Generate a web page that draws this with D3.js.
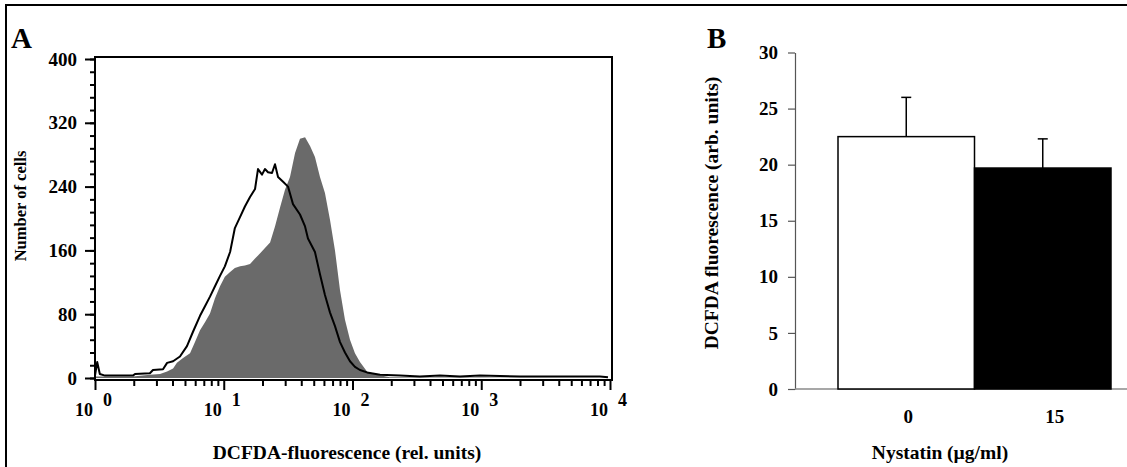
<!DOCTYPE html>
<html>
<head>
<meta charset="utf-8">
<script src="https://cdn.jsdelivr.net/npm/d3@7"></script>
<style>
  body { margin: 0; background: #fff; }
  svg { display: block; font-family: "Liberation Serif", "Times New Roman", serif; font-weight: bold; }
</style>
</head>
<body>
<svg id="chart" width="1127" height="467"></svg>
<script>
// Panel A: flow cytometry histograms (fluorescence, count)
const treatedFluor = [1.0, 1.31, 1.97, 2.67, 3.2, 3.63, 4.04, 4.33, 4.83, 5.47, 5.98, 6.54, 7.15, 7.82, 8.55, 9.35, 10.2, 11.2, 12.2, 13.4, 14.6, 16.0, 17.5, 19.1, 20.9, 22.9, 25.0, 27.4, 29.9, 32.7, 35.8, 39.1, 42.8, 46.8, 51.1, 55.9, 61.1, 66.9, 73.1, 80.0, 87.4, 95.6, 104.5, 114.3, 129.6, 155, 195, 334, 978, 9646];
const treatedCount = [2, 2, 2, 4, 5, 8, 12, 19, 25, 31, 45, 60, 70, 81, 100, 115, 127, 133, 138, 140, 141, 143, 150, 156, 163, 170, 190, 214, 236, 252, 282, 300, 302, 291, 277, 252, 232, 198, 160, 110, 73, 48, 31, 20, 8, 4, 1, 0.5, 0.5, 0];

const controlFluor = [1.0, 1.04, 1.09, 1.196, 1.97, 2.045, 2.67, 2.82, 3.375, 3.63, 4.04, 4.57, 5.18, 5.77, 6.54, 7.15, 7.82, 8.55, 9.35, 10.2, 11.2, 12.2, 13.4, 14.6, 16.0, 17.5, 18.45, 19.82, 20.9, 22.07, 23.7, 25.0, 26.4, 28.9, 31.55, 34.5, 39.1, 42.8, 45.1, 51.1, 55.9, 61.1, 66.9, 73.1, 80.0, 87.4, 95.6, 104.5, 114.3, 129.6, 163.6, 233.9, 334, 478, 684, 978, 2000, 4090, 8360, 9646];
const controlCount = [3, 20, 5, 3, 3, 5, 6, 10, 11, 19, 21, 27, 40, 58, 78, 90, 102, 115, 128, 140, 158, 188, 202, 215, 227, 237, 262, 255, 262, 258, 257, 268, 252, 246, 240, 218, 205, 190, 175, 158, 130, 104, 82, 65, 45, 32, 21, 14, 10, 7, 4, 3, 2, 3, 2, 3, 2, 2, 2, 1];

const histYTicks = [0, 80, 160, 240, 320, 400];
const histDecades = [1, 10, 100, 1000, 10000];

// Panel B: bar chart
const nystatinDose = ['0', '15'];
const dcfdaMean = [22.5, 19.7];
const dcfdaErr = [3.5, 2.6];
const barYTicks = [0, 5, 10, 15, 20, 25, 30];

const svg = d3.select('#chart');

// outer frame (top and left edges only)
svg.append('path')
  .attr('d', 'M6,467V5H1127')
  .attr('fill', 'none')
  .attr('stroke', '#000')
  .attr('stroke-width', 2);

// ---------- Panel A ----------
const A = { left: 95, right: 612, top: 57, bottom: 380 };

const x = d3.scaleLog().domain([1, 10000]).range([A.left, 610]);
const y = d3.scaleLinear().domain([0, 400]).range([378, 59]);

const area = d3.area()
  .x((d, i) => x(treatedFluor[i]))
  .y0(y(0))
  .y1(d => y(d));

svg.append('path')
  .datum(treatedCount)
  .attr('fill', '#6a6a6a')
  .attr('d', area);

const line = d3.line()
  .x((d, i) => x(controlFluor[i]))
  .y(d => y(d));

svg.append('path')
  .datum(controlCount)
  .attr('fill', 'none')
  .attr('stroke', '#000')
  .attr('stroke-width', 2)
  .attr('stroke-linejoin', 'round')
  .attr('d', line);

svg.append('rect')
  .attr('x', A.left)
  .attr('y', A.top)
  .attr('width', A.right - A.left)
  .attr('height', A.bottom - A.top)
  .attr('fill', 'none')
  .attr('stroke', '#000')
  .attr('stroke-width', 2);

// y axis: minor + major ticks
svg.append('g')
  .attr('transform', `translate(${A.left},0)`)
  .call(d3.axisLeft(y).tickValues(d3.range(0, 401, 16)).tickSize(5).tickFormat(''))
  .call(g => g.select('.domain').remove())
  .selectAll('line').attr('stroke-width', 2);

svg.append('g')
  .attr('transform', `translate(${A.left},0)`)
  .call(d3.axisLeft(y).tickValues(histYTicks).tickSize(10).tickPadding(8))
  .call(g => g.select('.domain').remove())
  .call(g => g.selectAll('line').attr('stroke-width', 2))
  .selectAll('text')
  .attr('font-family', 'Liberation Serif')
  .attr('font-weight', 'bold')
  .attr('font-size', 19);

// x axis: minor + decade ticks
const minorX = [];
histDecades.slice(0, -1).forEach(d => { for (let k = 2; k <= 9; k++) minorX.push(d * k); });

svg.append('g')
  .attr('transform', `translate(0,${A.bottom})`)
  .call(d3.axisBottom(x).tickValues(minorX).tickSize(6).tickFormat(''))
  .call(g => g.select('.domain').remove())
  .selectAll('line').attr('stroke-width', 2);

svg.append('g')
  .attr('transform', `translate(0,${A.bottom})`)
  .call(d3.axisBottom(x).tickValues(histDecades).tickSize(10).tickFormat(''))
  .call(g => g.select('.domain').remove())
  .selectAll('line').attr('stroke-width', 2);

const decLabels = svg.append('g').attr('font-size', 18);
decLabels.selectAll('text.base')
  .data(histDecades)
  .join('text')
  .attr('class', 'base')
  .attr('x', d => x(d) - 2)
  .attr('y', 416)
  .attr('text-anchor', 'end')
  .text('10');
decLabels.selectAll('text.exp')
  .data(histDecades)
  .join('text')
  .attr('class', 'exp')
  .attr('x', d => x(d) + 8)
  .attr('y', 406)
  .text(d => Math.round(Math.log10(d)));

svg.append('text')
  .attr('x', 347)
  .attr('y', 459)
  .attr('text-anchor', 'middle')
  .attr('font-size', 19.5)
  .text('DCFDA-fluorescence (rel. units)');

svg.append('text')
  .attr('transform', 'translate(26,206) rotate(-90)')
  .attr('text-anchor', 'middle')
  .attr('font-size', 16.5)
  .text('Number of cells');

svg.append('text')
  .attr('x', 11)
  .attr('y', 48)
  .attr('font-size', 29)
  .text('A');

// ---------- Panel B ----------
const B = { left: 795, right: 1127, barLeft: 838, barRight: 1111 };

const yB = d3.scaleLinear().domain([0, 30]).range([389, 52.5]);
const xB = d3.scaleBand().domain(nystatinDose).range([B.barLeft, B.barRight]).padding(0);

svg.append('g')
  .attr('transform', `translate(${B.left},0)`)
  .call(d3.axisLeft(yB).tickValues(barYTicks).tickSize(7).tickSizeOuter(0).tickPadding(10))
  .call(g => g.selectAll('line').attr('stroke', '#555').attr('stroke-width', 1.2))
  .call(g => g.select('.domain').attr('stroke', '#555').attr('stroke-width', 1.2))
  .selectAll('text')
  .attr('font-family', 'Liberation Serif')
  .attr('font-weight', 'bold')
  .attr('font-size', 19);

svg.append('line')
  .attr('x1', B.left)
  .attr('x2', B.right)
  .attr('y1', yB(0))
  .attr('y2', yB(0))
  .attr('stroke', '#8a8a8a')
  .attr('stroke-width', 1.5);

svg.selectAll('rect.bar')
  .data(dcfdaMean)
  .join('rect')
  .attr('class', 'bar')
  .attr('x', (d, i) => xB(nystatinDose[i]))
  .attr('y', d => yB(d))
  .attr('width', xB.bandwidth())
  .attr('height', d => yB(0) - yB(d))
  .attr('fill', (d, i) => (i === 0 ? '#fff' : '#000'))
  .attr('stroke', '#000')
  .attr('stroke-width', 1.5);

const errG = svg.append('g').attr('stroke', '#000').attr('stroke-width', 1.5);
dcfdaMean.forEach((m, i) => {
  const cx = xB(nystatinDose[i]) + xB.bandwidth() / 2;
  errG.append('line')
    .attr('x1', cx).attr('x2', cx)
    .attr('y1', yB(m)).attr('y2', yB(m + dcfdaErr[i]));
  errG.append('line')
    .attr('x1', cx - 5).attr('x2', cx + 5)
    .attr('y1', yB(m + dcfdaErr[i])).attr('y2', yB(m + dcfdaErr[i]));
});

svg.selectAll('text.cat')
  .data(nystatinDose)
  .join('text')
  .attr('class', 'cat')
  .attr('x', d => xB(d) + xB.bandwidth() / 2 + (d === '15' ? 12 : 2))
  .attr('y', 423)
  .attr('text-anchor', 'middle')
  .attr('font-size', 19)
  .text(d => d);

svg.append('text')
  .attr('x', 940)
  .attr('y', 459)
  .attr('text-anchor', 'middle')
  .attr('font-size', 19.5)
  .text('Nystatin (µg/ml)');

svg.append('text')
  .attr('transform', 'translate(718,213) rotate(-90)')
  .attr('text-anchor', 'middle')
  .attr('font-size', 19.5)
  .text('DCFDA fluorescence (arb. units)');

svg.append('text')
  .attr('x', 707)
  .attr('y', 48)
  .attr('font-size', 29)
  .text('B');
</script>
</body>
</html>
